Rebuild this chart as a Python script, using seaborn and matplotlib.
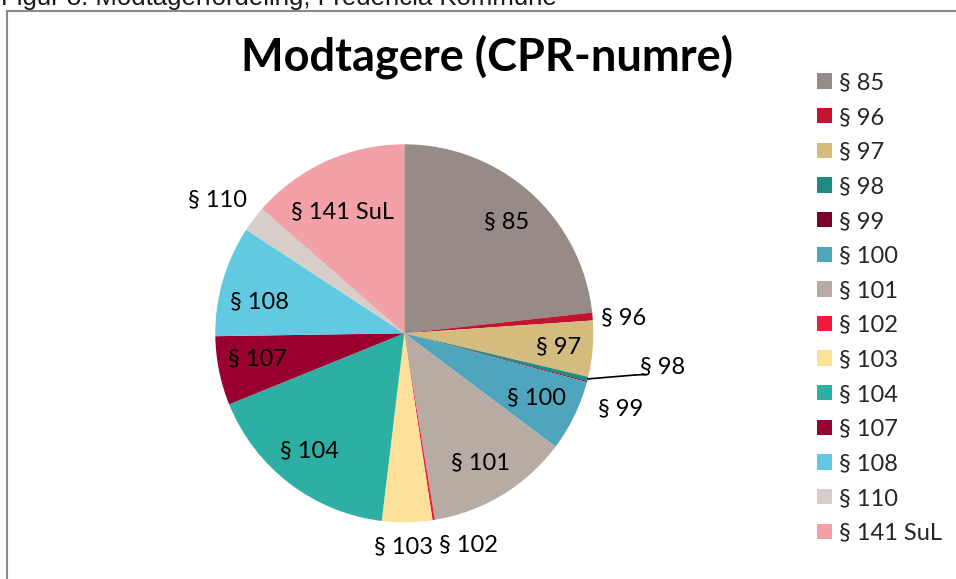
import matplotlib
matplotlib.use("Agg")
import matplotlib.pyplot as plt
from matplotlib.patches import Rectangle, Patch
import numpy as np
import seaborn as sns

# ---- data ----
categories = ["§ 85", "§ 96", "§ 97", "§ 98", "§ 99", "§ 100", "§ 101", "§ 102",
              "§ 103", "§ 104", "§ 107", "§ 108", "§ 110", "§ 141 SuL"]
shares = [23.3, 0.67, 4.8, 0.35, 0.1, 6.1, 12.2, 0.2, 4.3, 17.0, 5.9, 9.5, 2.2, 13.6]
title = "Modtagere (CPR-numre)"
caption = "Figur 8: Modtagerfordeling, Fredericia Kommune"

# ---- style ----
colors = ["#968B86", "#C41230", "#D4BC7F", "#218B82", "#7A0029", "#4FA6BC", "#B8ABA3",
          "#EE1B3E", "#FDE09A", "#2DAFA3", "#990030", "#62C9E2", "#D7CECA", "#F2A2A6"]
# label radial distance (x radius) and clockwise angular nudge (deg)
label_r = [0.80, 1.165, 0.817, 1.38, 1.214, 0.78, 0.795, 1.17, 1.13, 0.80, 0.787, 0.786, 1.216, 0.72]
label_d = [0.8, 1.0, 0.5, -6.5, 4.4, 0.0, 0.9, -8.0, 1.0, 1.5, 1.7, -4.0, -1.6, -2.7]

sns.set_theme(style="white")
plt.rcParams["font.family"] = ["Lato", "DejaVu Sans"]

W, H = 956, 579
fig = plt.figure(figsize=(W / 100, H / 100), dpi=100)
fig.patch.set_facecolor("white")

cx, cy, R = 404.3, 333.3, 189.0
ax = fig.add_axes([(cx - R) / W, (H - cy - R) / H, 2 * R / W, 2 * R / H])
wedges, _ = ax.pie(shares, colors=colors, startangle=90, counterclock=False,
                   wedgeprops=dict(linewidth=0))
ax.set_xlim(-1, 1)
ax.set_ylim(-1, 1)
ax.set_aspect("equal")
ax.axis("off")

for w, lab, r, d in zip(wedges, categories, label_r, label_d):
    mid = np.deg2rad((w.theta1 + w.theta2) / 2 - d)
    x, y = r * np.cos(mid), r * np.sin(mid)
    ax.text(x, y, lab, ha="center", va="center", fontsize=17, color="black")
    if lab == "§ 98":
        m2 = np.deg2rad((w.theta1 + w.theta2) / 2)
        ax.annotate("", xy=(np.cos(m2), np.sin(m2)),
                    xytext=((635 - cx) / R, -(375 - cy) / R),
                    arrowprops=dict(arrowstyle="-", color="black", lw=1.2,
                                    shrinkA=0, shrinkB=0))
        ax.plot([(635 - cx) / R, (646 - cx) / R], [-(375 - cy) / R, -(374.5 - cy) / R],
                color="black", lw=1.2, clip_on=False)

# title & caption
fig.text(487 / W, 1 - 70 / H, title, ha="center", va="baseline",
         fontsize=32.5, fontweight="bold", color="black")
fig.text(1 / W, 1 - 5 / H, caption, ha="left", va="baseline", fontsize=18.5,
         family=["Liberation Sans", "DejaVu Sans"], color="#1a1a1a")

# frame
fig.add_artist(Rectangle((7 / W, -0.05), 1.1, (H - 11) / H + 0.05,
                         transform=fig.transFigure, fill=False,
                         edgecolor="#8a8a8a", lw=1.5))

# legend
handles = [Patch(facecolor=c, edgecolor="none") for c in colors]
fig.legend(handles, categories, loc="upper left",
           bbox_to_anchor=(808 / W, 1 - 63 / H), frameon=False,
           fontsize=17, handlelength=0.62, handleheight=0.62,
           handletextpad=0.3, labelspacing=0.577, borderaxespad=0)

fig.savefig("out.png", dpi=100, facecolor="white")
